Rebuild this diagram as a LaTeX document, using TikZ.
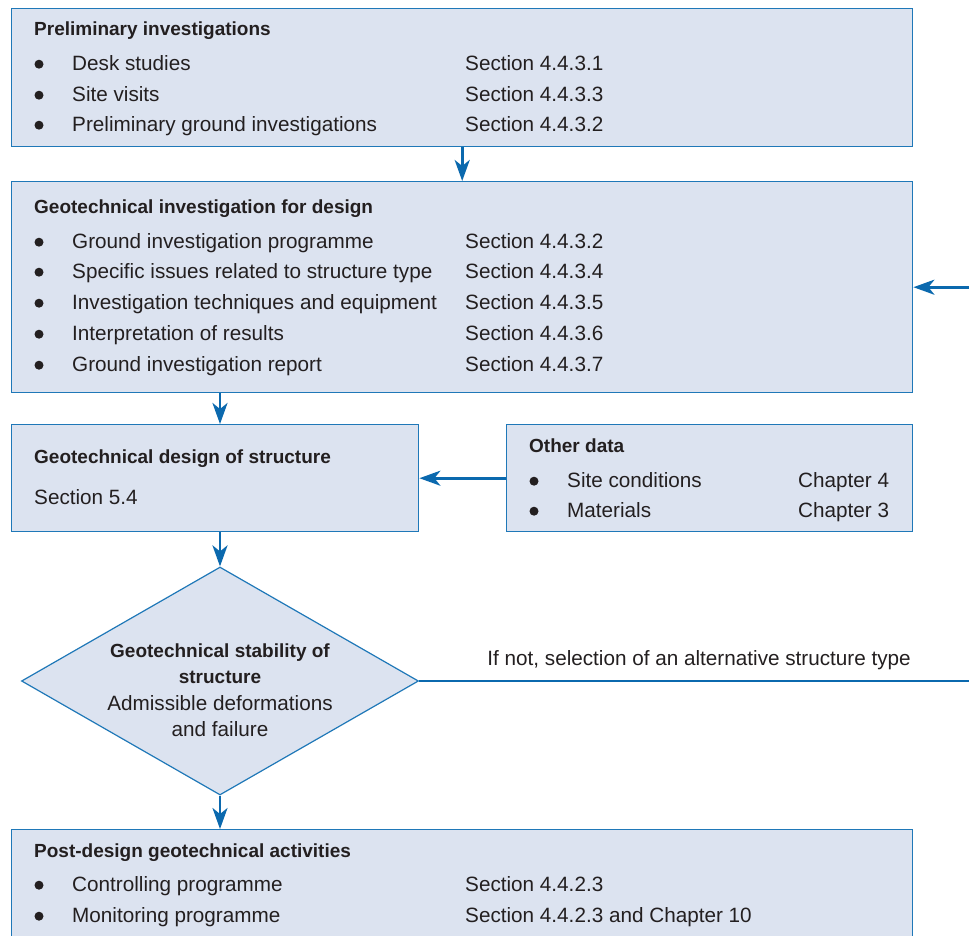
\documentclass[tikz,border=0pt]{standalone}
\usepackage{fontspec}
\setmainfont{Liberation Sans}
\usetikzlibrary{arrows.meta,shapes.geometric}
\definecolor{boxfill}{HTML}{DCE3F0}
\definecolor{boxline}{HTML}{1F78B8}
\definecolor{flow}{HTML}{0B69AE}
\definecolor{ink}{HTML}{231F20}

% one bullet line: name, bullet x, text x, reference x, baseline y, text, reference
\newcommand\listrow[7]{%
  \fill[ink] (#2,#5-5.8) circle[radius=4.5pt];
  \node[body] (#1-text) at (#3,#5) {#6};
  \node[body] (#1-ref) at (#4,#5) {#7};
}

\begin{document}
\begin{tikzpicture}[x=1pt,y=-1pt,
  panel/.style={draw=boxline, fill=boxfill, line width=1.4pt, rectangle,
    anchor=north west, inner sep=0pt},
  decision/.style={draw=boxline, fill=boxfill, line width=1.2pt, diamond,
    inner sep=0pt},
  flowline/.style={draw=flow, line width=2.8pt},
  flowarrow/.style={flowline, -{Stealth[length=21pt,width=15pt,inset=6pt]}},
  head/.style={anchor=base west, inner sep=0pt, text=ink,
    font=\fontsize{19}{22}\selectfont\bfseries},
  body/.style={anchor=base west, inner sep=0pt, text=ink,
    font=\fontsize{20.7}{24}\selectfont},
]
\clip (0,0) rectangle (969,935);
\fill[white] (0,0) rectangle (969,935);

% boxes
\node[panel, minimum width=901pt, minimum height=138pt] (prelim) at (11,8) {};
\node[panel, minimum width=901pt, minimum height=211pt] (geo) at (11,181) {};
\node[panel, minimum width=407pt, minimum height=107pt] (design) at (11,424) {};
\node[panel, minimum width=406pt, minimum height=107pt] (other) at (506,424) {};
\node[decision, minimum width=397pt, minimum height=228pt] (stab) at (220,681) {};
\node[panel, minimum width=901pt, minimum height=160pt] (post) at (11,829) {};

% preliminary investigations
\node[head] (prelim-title) at (34,35) {Preliminary investigations};
\listrow{desk}{39}{72}{465}{70}{Desk studies}{Section 4.4.3.1}
\listrow{visit}{39}{72}{465}{101}{Site visits}{Section 4.4.3.3}
\listrow{pgi}{39}{72}{465}{131}{Preliminary ground investigations}{Section 4.4.3.2}

% investigation for design
\node[head] (geo-title) at (34,213) {Geotechnical investigation for design};
\listrow{prog}{39}{72}{465}{248}{Ground investigation programme}{Section 4.4.3.2}
\listrow{issue}{39}{72}{465}{278}{Specific issues related to structure type}{Section 4.4.3.4}
\listrow{tech}{39}{72}{465}{309}{Investigation techniques and equipment}{Section 4.4.3.5}
\listrow{interp}{39}{72}{465}{340}{Interpretation of results}{Section 4.4.3.6}
\listrow{report}{39}{72}{465}{371}{Ground investigation report}{Section 4.4.3.7}

% design of structure
\node[head] (design-title) at (34,463) {Geotechnical design of structure};
\node[body] (design-ref) at (34,504) {Section 5.4};

% other data
\node[head] (other-title) at (529,452) {Other data};
\listrow{site}{534}{567}{798}{487}{Site conditions}{Chapter 4}
\listrow{mat}{534}{567}{798}{517}{Materials}{Chapter 3}

% stability check
\node[head, anchor=base] (stab-l1) at (220,657) {Geotechnical stability of};
\node[head, anchor=base] (stab-l2) at (220,683) {structure};
\node[body, anchor=base] (stab-l3) at (220,710) {Admissible deformations};
\node[body, anchor=base] (stab-l4) at (220,736) {and failure};

% post-design activities
\node[head] (post-title) at (34,857) {Post-design geotechnical activities};
\listrow{ctrl}{39}{72}{465}{891}{Controlling programme}{Section 4.4.2.3}
\listrow{mon}{39}{72}{465}{922}{Monitoring programme}{Section 4.4.2.3 and Chapter 10}

% connectors; the return path runs along the right edge
\coordinate (rightedge) at (972,0);
\draw[flowarrow] (prelim.south) -- (geo.north);
\draw[flowarrow] (geo.east -| rightedge) -- (geo.east);
\draw[flowarrow] (geo.south -| stab.north) -- (design.north -| stab.north);
\draw[flowarrow] (other.west) -- (design.east);
\draw[flowarrow] (design.south -| stab.north) -- (stab.north);
\draw[flowline] (stab.east) -- (stab.east -| rightedge);
\node[body, anchor=base east] (alt) at (911,665)
  {If not, selection of an alternative structure type};
\draw[flowarrow] (stab.south) -- (post.north -| stab.south);
\end{tikzpicture}
\end{document}
